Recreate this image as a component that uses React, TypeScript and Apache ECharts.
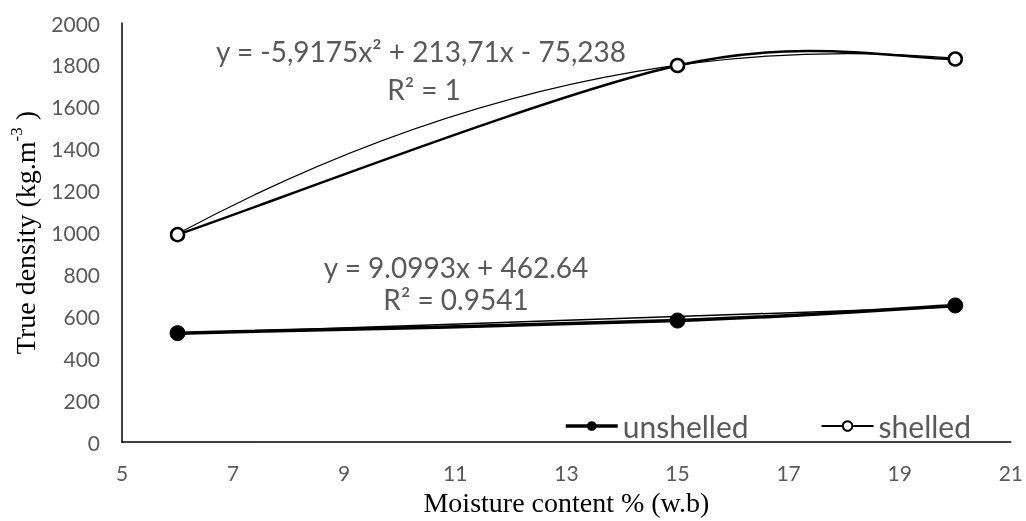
import React, { useEffect, useRef } from "react";
import * as echarts from "echarts";

const moisture = [6, 15, 20];
const unshelled = [520, 580, 652];
const shelled = [990, 1797, 1828];
const quadCoeffs = [-5.9175, 213.71, -75.238]; // a2, a1, a0 (shelled trendline)
const linCoeffs = [9.0993, 462.64]; // slope, intercept (unshelled trendline)
const xLabels = [5, 7, 9, 11, 13, 15, 17, 19, 21];
const seriesNames = ["unshelled", "shelled"];
const eqShelled = "y = -5,9175x² + 213,71x - 75,238";
const r2Shelled = "R² = 1";
const eqUnshelled = "y = 9.0993x + 462.64";
const r2Unshelled = "R² = 0.9541";

const SANS = "Lato, 'Open Sans', sans-serif";
const SERIF = "'Liberation Serif', 'Times New Roman', serif";
const GRAY = "#595959";

// Excel-style smoothed line (Catmull-Rom, 1/6 arms) drawn through the axis scales
function smoothSegments(xs: number[], ys: number[], width: number, z: number) {
  return {
    type: "custom",
    silent: true,
    z,
    data: xs.slice(0, xs.length - 1).map((_, i) => [i]),
    renderItem: (params: any, api: any) => {
      const i = params.dataIndex;
      const n = xs.length;
      const P = (k: number) => {
        const kk = Math.max(0, Math.min(n - 1, k));
        return api.coord([xs[kk], ys[kk]]);
      };
      const p0 = P(i - 1), p1 = P(i), p2 = P(i + 1), p3 = P(i + 2);
      return {
        type: "bezierCurve",
        shape: {
          x1: p1[0], y1: p1[1],
          x2: p2[0], y2: p2[1],
          cpx1: p1[0] + (p2[0] - p0[0]) / 6,
          cpy1: p1[1] + (p2[1] - p0[1]) / 6,
          cpx2: p2[0] - (p3[0] - p1[0]) / 6,
          cpy2: p2[1] - (p3[1] - p1[1]) / 6,
        },
        style: { stroke: "#000", lineWidth: width, fill: null },
      };
    },
  };
}

export default function App() {
  const ref = useRef<HTMLDivElement>(null);
  useEffect(() => {
    document.body.style.margin = "0";
    document.documentElement.style.overflow = "hidden";
    if (!ref.current) return;
    const chart = echarts.init(ref.current, undefined, { renderer: "svg" });
    const quad = (x: number) => quadCoeffs[0] * x * x + quadCoeffs[1] * x + quadCoeffs[2];
    const lin = (x: number) => linCoeffs[0] * x + linCoeffs[1];
    const xa = moisture[0];
    const xb = moisture[moisture.length - 1];
    const eqText = (text: string, x: number, y: number) => ({
      type: "text",
      x,
      y,
      style: { text, fill: GRAY, font: `28px ${SANS}`, align: "center", verticalAlign: "middle" },
    });

    chart.setOption({
      animation: false,
      grid: { left: 119, right: 12, top: 23, bottom: 71 },
      xAxis: {
        type: "value",
        min: 5,
        max: 21,
        interval: 1,
        axisLine: { show: true, lineStyle: { color: "#000", width: 1.5 } },
        axisTick: { show: false },
        splitLine: { show: false },
        axisLabel: {
          color: GRAY,
          fontFamily: SANS,
          fontSize: 21,
          margin: 20,
          formatter: (v: number) => (xLabels.indexOf(v) >= 0 ? String(v) : ""),
        },
        name: "Moisture content % (w.b)",
        nameLocation: "middle",
        nameGap: 42,
        nameTextStyle: { color: "#000", fontFamily: SERIF, fontSize: 28 },
      },
      yAxis: {
        type: "value",
        min: 0,
        max: 2000,
        interval: 200,
        axisLine: { show: true, lineStyle: { color: "#000", width: 1.5 } },
        axisTick: { show: false },
        splitLine: { show: false },
        axisLabel: { color: GRAY, fontFamily: SANS, fontSize: 21, margin: 22, formatter: (v: number) => String(v) },
        name: "{a|True density (kg.m}{s|-3}{a| )}",
        nameLocation: "middle",
        nameRotate: 90,
        nameGap: 80,
        nameTextStyle: {
          color: "#000",
          fontFamily: SERIF,
          fontSize: 28,
          rich: {
            a: { fontFamily: SERIF, fontSize: 28, color: "#000", lineHeight: 34 },
            s: { fontFamily: SERIF, fontSize: 17, color: "#000", lineHeight: 34, verticalAlign: "top", padding: [0, 0, 14, 0] },
          },
        },
      },
      legend: {
        data: [
          { name: seriesNames[0], lineStyle: { color: "#000", width: 3.5, opacity: 1 } },
          { name: seriesNames[1], lineStyle: { color: "#000", width: 2, opacity: 1 } },
        ],
        left: 559,
        top: 406,
        itemWidth: 52,
        itemHeight: 12,
        itemGap: 72,
        textStyle: { color: GRAY, fontFamily: SANS, fontSize: 30 },
      },
      graphic: [
        eqText(eqShelled, 421, 51),
        eqText(r2Shelled, 424, 89),
        eqText(eqUnshelled, 456, 267),
        eqText(r2Unshelled, 456, 299),
      ],
      series: [
        smoothSegments(moisture, unshelled, 3.5, 2),
        smoothSegments(moisture, shelled, 2.5, 2),
        {
          name: "quadTrend",
          type: "custom",
          silent: true,
          data: [[xa, xb]],
          z: 2,
          renderItem: (_p: any, api: any) => {
            const cx = (xa + xb) / 2;
            const slope = 2 * quadCoeffs[0] * xa + quadCoeffs[1];
            const cy = quad(xa) + (slope * (xb - xa)) / 2;
            const p0 = api.coord([xa, quad(xa)]);
            const p1 = api.coord([xb, quad(xb)]);
            const pc = api.coord([cx, cy]);
            return {
              type: "bezierCurve",
              shape: { x1: p0[0], y1: p0[1], x2: p1[0], y2: p1[1], cpx1: pc[0], cpy1: pc[1] },
              style: { stroke: "#000", lineWidth: 1.2, fill: null },
            };
          },
        },
        {
          name: "linTrend",
          type: "custom",
          silent: true,
          data: [[xa, xb]],
          z: 2,
          renderItem: (_p: any, api: any) => {
            const p0 = api.coord([xa, lin(xa)]);
            const p1 = api.coord([xb, lin(xb)]);
            return {
              type: "line",
              shape: { x1: p0[0], y1: p0[1], x2: p1[0], y2: p1[1] },
              style: { stroke: "#000", lineWidth: 1.5 },
            };
          },
        },
        {
          name: "unshelled",
          type: "line",
          data: moisture.map((x, i) => [x, unshelled[i]]),
          symbol: "circle",
          symbolSize: 15,
          lineStyle: { color: "#000", width: 3.5, opacity: 0 },
          itemStyle: { color: "#000", borderColor: "#000" },
          z: 5,
        },
        {
          name: "shelled",
          type: "line",
          data: moisture.map((x, i) => [x, shelled[i]]),
          symbol: "circle",
          symbolSize: 13,
          lineStyle: { color: "#000", width: 2, opacity: 0 },
          itemStyle: { color: "#fff", borderColor: "#000", borderWidth: 2.5 },
          z: 5,
        },
      ],
    });
    return () => chart.dispose();
  }, []);
  return <div ref={ref} style={{ position: "fixed", left: 0, top: 0, width: 1026, height: 521 }} />;
}
